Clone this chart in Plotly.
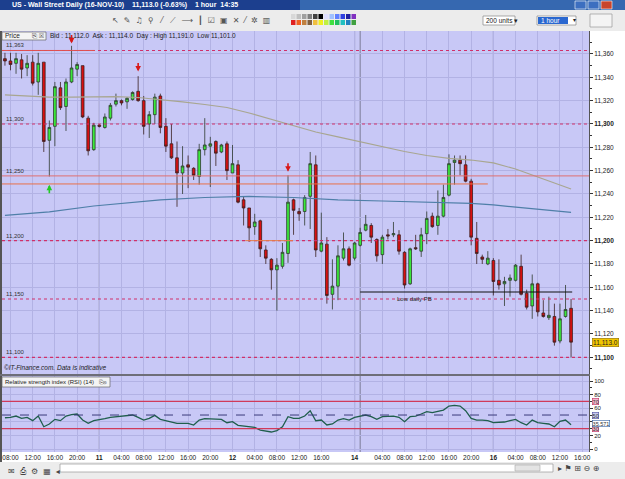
import plotly.graph_objects as go

W, H = 625, 479
def px(x): return x / W
def py(y): return 1 - y / H

# ---------------- data ----------------
idx = list(range(-1, 102))
opens = [11356, 11354, 11352, 11355, 11348, 11353, 11336, 11353, 11286, 11298, 11331, 11315, 11336, 11347, 11350, 11305,
         11278, 11299, 11297, 11305, 11317, 11320, 11319, 11321, 11328, 11320, 11300, 11308, 11324, 11298, 11283, 11271,
         11258, 11265, 11262, 11255, 11278, 11281, 11285, 11276, 11283, 11258, 11265, 11235, 11228, 11212, 11217, 11192,
         11184, 11175, 11178, 11189, 11235, 11225, 11225, 11238, 11265, 11191, 11197, 11154, 11161, 11185, 11193, 11185,
         11196, 11209, 11213, 11201, 11188, 11205, 11205, 11205, 11190, 11163, 11194, 11191, 11206, 11221, 11213, 11221,
         11239, 11267, 11269, 11265, 11251, 11202, 11186, 11180, 11183, 11166, 11163, 11166, 11166, 11178, 11155, 11144,
         11163, 11138, 11134, 11135, 11114, 11135, 11142]
highs = [11361, 11361, 11361, 11360, 11359, 11359, 11361, 11353, 11303, 11336, 11336, 11339, 11367, 11353, 11350, 11307,
         11301, 11300, 11309, 11318, 11326, 11321, 11323, 11328, 11341, 11324, 11311, 11326, 11326, 11305, 11300, 11285,
         11281, 11273, 11263, 11283, 11305, 11289, 11286, 11283, 11285, 11282, 11269, 11238, 11228, 11223, 11218, 11196,
         11185, 11185, 11198, 11256, 11236, 11228, 11239, 11276, 11273, 11224, 11203, 11184, 11196, 11207, 11195, 11199,
         11211, 11222, 11215, 11202, 11205, 11210, 11216, 11209, 11191, 11194, 11205, 11211, 11225, 11224, 11243, 11248,
         11274, 11273, 11273, 11273, 11253, 11216, 11188, 11191, 11185, 11184, 11169, 11171, 11180, 11188, 11158, 11171,
         11164, 11149, 11152, 11146, 11146, 11162, 11150]
lows = [11350, 11346, 11343, 11339, 11341, 11333, 11325, 11276, 11255, 11281, 11312, 11294, 11335, 11341, 11305, 11273,
        11277, 11297, 11296, 11303, 11315, 11316, 11313, 11320, 11319, 11291, 11288, 11300, 11292, 11276, 11270, 11229,
        11240, 11245, 11252, 11248, 11273, 11246, 11264, 11275, 11252, 11258, 11232, 11213, 11199, 11205, 11186, 11180,
        11158, 11140, 11176, 11181, 11205, 11217, 11213, 11210, 11186, 11190, 11146, 11141, 11149, 11183, 11178, 11183,
        11195, 11208, 11198, 11182, 11180, 11201, 11203, 11188, 11159, 11162, 11192, 11186, 11197, 11211, 11205, 11220,
        11238, 11248, 11256, 11250, 11196, 11180, 11180, 11179, 11153, 11158, 11144, 11152, 11165, 11153, 11141, 11133,
        11135, 11134, 11132, 11110, 11112, 11134, 11100]
closes = [11354, 11351, 11356, 11347, 11352, 11335, 11352, 11285, 11297, 11332, 11314, 11336, 11348, 11351, 11306, 11277,
          11299, 11298, 11306, 11316, 11320, 11318, 11322, 11327, 11320, 11298, 11308, 11323, 11297, 11281, 11271, 11258,
          11264, 11263, 11256, 11278, 11282, 11283, 11275, 11282, 11260, 11266, 11233, 11228, 11211, 11216, 11193, 11185,
          11175, 11179, 11190, 11233, 11226, 11223, 11237, 11266, 11192, 11198, 11153, 11161, 11187, 11193, 11179, 11198,
          11207, 11214, 11203, 11187, 11203, 11204, 11206, 11191, 11162, 11193, 11193, 11205, 11219, 11212, 11221, 11237,
          11266, 11269, 11266, 11251, 11203, 11189, 11184, 11185, 11165, 11162, 11165, 11168, 11179, 11154, 11143, 11163,
          11139, 11135, 11136, 11113, 11133, 11141, 11113]
rsi = [46, 46.6, 48.5, 45, 46.6, 41.7, 48.5, 32.8, 36.8, 43.6, 41.7, 48.5, 50.5, 51.5, 42.6, 37.7, 41.7, 42.6, 44.6,
       46.6, 47.5, 47.5, 48.5, 50, 46.6, 42.6, 45, 49.5, 43.6, 41.7, 40.2, 37.7, 37.7, 37.7, 35.3, 42.6, 44.6, 44.6,
       43.6, 43.6, 38.7, 40.2, 34.8, 33.8, 31.9, 31.9, 27.9, 27, 25, 27, 32.8, 47.5, 45, 45, 48.5, 56.3, 41.6, 42.6,
       35.3, 36.8, 42.6, 44.6, 42.6, 46.6, 48.5, 50, 47.5, 43.6, 47.5, 48.5, 48.5, 46.6, 40.2, 47.5, 48.5, 51.5, 54.9,
       53.4, 54.9, 57.3, 63.2, 64.2, 63.2, 56.3, 45, 42.6, 42.6, 41.7, 38.7, 38.7, 39.7, 41.7, 43.6, 38.7, 35.3, 42.6,
       38.7, 37.7, 36.8, 32.8, 40.7, 42.6, 35.6]
ma_slow_x = [-1, 3, 7, 11, 15, 19, 23, 27, 31, 35, 39, 43, 47, 51, 55, 59, 63, 67, 71, 75, 79, 83, 87, 91, 95, 99, 101]
ma_slow = [11324.9, 11324.0, 11323.1, 11323.1, 11323.1, 11323.4, 11322.7, 11321.0, 11318.9, 11316.7, 11314.1, 11309.4,
           11303.9, 11298.3, 11293.1, 11288.9, 11284.6, 11280.3, 11276.4, 11273.0, 11270.6, 11269.1, 11266.6, 11261.4,
           11254.6, 11248.2, 11244.3]
ma_fast_x = [-1, 7, 15, 19, 27, 35, 43, 51, 59, 67, 75, 83, 87, 91, 95, 101]
ma_fast = [11221.6, 11224.6, 11229.7, 11231.4, 11234.9, 11237.0, 11237.9, 11237.0, 11234.9, 11234.0, 11232.7, 11231.9,
           11230.6, 11228.9, 11227.2, 11224.3]
sell_idx = [11, 23, 50]
sell_px = [11369, 11345, 11259]
buy_idx = [7]
buy_px = [11248]
tick_idx = [0, 4, 8, 12, 16, 20, 24, 28, 32, 36, 40, 44, 48, 52, 56, 62, 67, 71, 75, 79, 83, 87, 91, 95, 99, 103]
tick_lbl = ['08:00', '12:00', '16:00', '20:00', '<b>11</b>', '04:00', '08:00', '12:00', '16:00', '20:00', '<b>12</b>',
            '04:00', '08:00', '12:00', '16:00', '<b>14</b>', '04:00', '08:00', '12:00', '16:00', '20:00', '<b>16</b>',
            '04:00', '08:00', '12:00', '16:00']
day_lines = [16, 40, 62, 63, 87]
price_ticks = list(range(11100, 11361, 20))
price_tick_lbl = [('<b>%s</b>' % f'{v:,}') if v % 100 == 0 else f'{v:,}' for v in price_ticks]
rsi_ticks = [0, 20, 40, 60, 80, 100]
rsi_tick_lbl = ['0', '20', '', '60', '80', '100']
level_dotted = [11363, 11300, 11200, 11150, 11100]
level_labels = ['11,363', '11,300', '11,250', '11,200', '11,150', '11,100']
level_label_y = [11363, 11300, 11255.5, 11200, 11150, 11100]
low_pb = 11156
last_px = 11113
rsi_last = 35.571

FONT = "Liberation Sans, Arial, sans-serif"
LAV = "#C8C8F6"
GRID = "#B2B2E4"

fig = go.Figure()

fig.add_trace(go.Scatter(x=ma_slow_x, y=ma_slow, mode="lines", line=dict(color="#A8A690", width=1.2),
                         hoverinfo="skip", xaxis="x", yaxis="y"))
fig.add_trace(go.Scatter(x=ma_fast_x, y=ma_fast, mode="lines", line=dict(color="#4F7FA8", width=1.2),
                         hoverinfo="skip", xaxis="x", yaxis="y"))
fig.add_trace(go.Candlestick(
    x=idx, open=opens, high=highs, low=lows, close=closes, xaxis="x", yaxis="y",
    increasing=dict(fillcolor="#3BEA3B", line=dict(color="#2E3A2E", width=0.8)),
    decreasing=dict(fillcolor="#D81010", line=dict(color="#3A2020", width=0.8)),
    whiskerwidth=0, hoverinfo="skip"))
fig.add_trace(go.Scatter(x=idx, y=rsi, mode="lines", line=dict(color="#1F5E4C", width=1.3),
                         hoverinfo="skip", xaxis="x", yaxis="y2"))

fig.update_layout(
    width=W, height=H, margin=dict(l=0, r=0, t=0, b=0),
    paper_bgcolor="white", plot_bgcolor=LAV, showlegend=False,
    font=dict(family=FONT, size=7, color="#222"),
    xaxis=dict(domain=[px(2), px(589)], range=[-1.53, 104.23], anchor="y2", tickvals=tick_idx, ticktext=tick_lbl,
               showgrid=True, gridcolor=GRID, gridwidth=1, zeroline=False, rangeslider=dict(visible=False),
               tickfont=dict(size=6.5, color="#222"), ticks="", automargin=False, showline=False),
    yaxis=dict(domain=[py(374), py(31)], range=[11085.7, 11379.7], side="right", anchor="x",
               tickvals=price_ticks, ticktext=price_tick_lbl, ticks="outside", ticklen=3, tickcolor="#333",
               minor=dict(dtick=10, tick0=11100, ticks="outside", ticklen=2, tickcolor="#333", showgrid=False),
               showgrid=True, gridcolor=GRID, zeroline=False, showline=True, linecolor="#555", linewidth=1,
               tickfont=dict(size=6.5, color="#222"), automargin=False),
    yaxis2=dict(domain=[py(452), py(376)], range=[-4.4, 107.4], side="right", anchor="x",
                tickvals=rsi_ticks, ticktext=rsi_tick_lbl, ticks="outside", ticklen=3, tickcolor="#333",
                minor=dict(dtick=10, tick0=0, ticks="outside", ticklen=2, tickcolor="#333", showgrid=False),
                showgrid=True, gridcolor=GRID, zeroline=False, showline=True, linecolor="#555", linewidth=1,
                tickfont=dict(size=6, color="#222"), automargin=False),
)

shapes = []
# window chrome
shapes.append(dict(type="rect", xref="paper", yref="paper", x0=0, x1=1, y0=py(10), y1=1,
                   fillcolor="#1C3F8E", line=dict(width=0), layer="below"))
shapes.append(dict(type="rect", xref="paper", yref="paper", x0=px(300), x1=1, y0=py(10), y1=1,
                   fillcolor="#3668B0", line=dict(width=0), layer="below"))
shapes.append(dict(type="rect", xref="paper", yref="paper", x0=0, x1=1, y0=py(31), y1=py(10),
                   fillcolor="#ECECEC", line=dict(width=0), layer="below"))
shapes.append(dict(type="rect", xref="paper", yref="paper", x0=0, x1=1, y0=0, y1=py(462),
                   fillcolor="#ECECEC", line=dict(width=0), layer="below"))
# window buttons
for bx, col in [(575, "#3C6FC0"), (588, "#3C6FC0"), (601, "#C8442C")]:
    shapes.append(dict(type="rect", xref="paper", yref="paper", x0=px(bx), x1=px(bx + 11), y0=py(9), y1=py(1),
                       fillcolor=col, line=dict(color="white", width=0.6)))
# toolbar palette
pal1 = ["#D8D8D8", "#C0C0C0", "#A0A0A0", "#808080", "#404040", "#000000", "#E0E0FF", "#A0C0FF", "#6080FF",
        "#3040E0", "#2020A0", "#8030C0"]
pal2 = ["#E02020", "#F06020", "#C08040", "#806040", "#F0C040", "#F0F020", "#C0F040", "#40E040", "#20C060",
        "#20C0C0", "#2080C0", "#40A040"]
for k, c in enumerate(pal1):
    shapes.append(dict(type="rect", xref="paper", yref="paper", x0=px(291 + 5.5 * k), x1=px(295.5 + 5.5 * k),
                       y0=py(19), y1=py(14), fillcolor=c, line=dict(width=0)))
for k, c in enumerate(pal2):
    shapes.append(dict(type="rect", xref="paper", yref="paper", x0=px(291 + 5.5 * k), x1=px(295.5 + 5.5 * k),
                       y0=py(25), y1=py(20), fillcolor=c, line=dict(width=0)))
# dropdowns
shapes.append(dict(type="rect", xref="paper", yref="paper", x0=px(483), x1=px(515), y0=py(25), y1=py(16),
                   fillcolor="white", line=dict(color="#888", width=0.7)))
shapes.append(dict(type="rect", xref="paper", yref="paper", x0=px(537), x1=px(576), y0=py(25), y1=py(16),
                   fillcolor="white", line=dict(color="#888", width=0.7)))
shapes.append(dict(type="rect", xref="paper", yref="paper", x0=px(538), x1=px(568), y0=py(24), y1=py(17),
                   fillcolor="#2A68D0", line=dict(width=0)))
shapes.append(dict(type="rect", xref="paper", yref="paper", x0=px(590), x1=px(612), y0=py(27), y1=py(14),
                   fillcolor="#F4F4F4", line=dict(color="#999", width=0.7)))
# bottom scrollbar
shapes.append(dict(type="rect", xref="paper", yref="paper", x0=px(60), x1=px(553), y0=py(472), y1=py(464),
                   fillcolor="white", line=dict(color="#999", width=0.7)))
shapes.append(dict(type="rect", xref="paper", yref="paper", x0=px(515), x1=px(540), y0=py(471), y1=py(465),
                   fillcolor="#E4E4E4", line=dict(color="#AAA", width=0.6)))
# left window border
shapes.append(dict(type="line", xref="paper", yref="paper", x0=px(1), x1=px(1), y0=py(462), y1=py(31),
                   line=dict(color="#555", width=2)))
# panel separator
shapes.append(dict(type="line", xref="paper", yref="paper", x0=0, x1=px(590), y0=py(375), y1=py(375),
                   line=dict(color="#6E6E78", width=2)))
# day separators
for d in day_lines:
    shapes.append(dict(type="line", xref="x", yref="paper", x0=d, x1=d, y0=py(452), y1=py(31),
                       line=dict(color="#7C7C96", width=1), layer="below"))
# dotted levels
for lv in level_dotted:
    shapes.append(dict(type="line", xref="paper", yref="y", x0=px(2), x1=px(589), y0=lv, y1=lv,
                       line=dict(color="#D0306A", width=1.2, dash="dot")))
shapes.append(dict(type="line", xref="x", yref="y", x0=-1.53, x1=15.2, y0=11363, y1=11363,
                   line=dict(color="#E05050", width=1)))
shapes.append(dict(type="line", xref="paper", yref="y", x0=px(2), x1=px(589), y0=11255.5, y1=11255.5,
                   line=dict(color="#E07070", width=1)))
shapes.append(dict(type="line", xref="x", yref="y", x0=-1.53, x1=86, y0=11248.6, y1=11248.6,
                   line=dict(color="#E8704A", width=1)))
shapes.append(dict(type="line", xref="x", yref="y", x0=42.3, x1=50.9, y0=11200, y1=11200,
                   line=dict(color="#E8804A", width=1)))
shapes.append(dict(type="line", xref="x", yref="y", x0=63, x1=101.2, y0=low_pb, y1=low_pb,
                   line=dict(color="#111", width=1.2)))
# RSI levels
for lv, col, dash in [(70, "#D03A5A", "solid"), (30, "#D03A5A", "solid"), (50, "#3A3A7A", "dash")]:
    shapes.append(dict(type="line", xref="paper", yref="y2", x0=px(2), x1=px(589), y0=lv, y1=lv,
                       line=dict(color=col, width=1 if dash == "dash" else 1.3, dash=dash)))
# header boxes
shapes.append(dict(type="rect", xref="paper", yref="paper", x0=px(2), x1=px(46), y0=py(40), y1=py(32),
                   fillcolor="#F4F4F4", line=dict(color="#666", width=0.7)))
shapes.append(dict(type="rect", xref="paper", yref="paper", x0=px(2), x1=px(110), y0=py(387), y1=py(377),
                   fillcolor="#F4F4F4", line=dict(color="#666", width=0.7)))

ann = []
def text(x, y, s, size=7, color="#222", xanchor="left", yanchor="middle", xref="paper", yref="paper", **kw):
    ann.append(dict(x=x, y=y, xref=xref, yref=yref, text=s, showarrow=False, xanchor=xanchor, yanchor=yanchor,
                    font=dict(size=size, color=color, family=FONT), **kw))

text(px(10), py(5), "<b>US - Wall Street Daily (16-NOV-10)    11,113.0 (-0.63%)    1 hour  14:35</b>", size=7,
     color="white")
ann.append(dict(x=px(110), y=py(20.5), xref="paper", yref="paper", showarrow=False, xanchor="left",
                yanchor="middle", text="↖  ✎  ♫  ⚲   ⁄   ⟋  ⟶  ┃  ☑  ▣  ✕  ⁄  ✲  ▥",
                font=dict(size=8, color="#555", family="DejaVu Sans")))
text(px(484), py(20.5), "200 units ▾", size=6.5)
text(px(539), py(20.5), "1 hour", size=6.5, color="white")
text(px(571), py(20.5), "▾", size=6)
ann.append(dict(x=px(6), y=py(471), xref="paper", yref="paper", showarrow=False, xanchor="left",
                yanchor="middle", text="✉  ⎙  ⚙  ▦  ◂", font=dict(size=8, color="#444", family="DejaVu Sans")))
ann.append(dict(x=px(556), y=py(468), xref="paper", yref="paper", showarrow=False, xanchor="left",
                yanchor="middle", text="▸ ⚑ ⊞ ⊖ ⊕", font=dict(size=8, color="#444", family="DejaVu Sans")))
text(px(3), py(36), "Price", size=6.5)
text(px(30), py(36), "⎘ ☒", size=6.5)
text(px(48), py(36), "Bid : 11,112.0  Ask : 11,114.0  Day : High 11,191.0  Low 11,101.0", size=6.5)
text(px(3), py(382), "Relative strength index (RSI) (14)", size=6)
text(px(97), py(382), "⎘⊗", size=5.5)
text(px(2), py(367), "<i>©IT-Finance.com. Data is indicative</i>", size=6.5)
for lbl, yv in zip(level_labels, level_label_y):
    text(px(4), yv, lbl, size=6, color="#333", yref="y", yanchor="bottom")
text(px(395), low_pb - 2, "Low daily PB", size=6, xref="paper", yref="y", yanchor="top")
# price tag
ann.append(dict(x=px(592), y=last_px, xref="paper", yref="y", text=f"{last_px:,}.0", showarrow=False,
                xanchor="left", yanchor="middle", bgcolor="#F2C600", bordercolor="#8A6A00", borderwidth=0.6,
                borderpad=0.5, font=dict(size=6.5, color="#222", family=FONT)))
# RSI tags
for val, lbl, bg, bc in [(70, "70", "#F2B8CC", "#C03060"), (50, "50", "#C8C8F0", "#5050A0"),
                         (30, "30", "#F2B8CC", "#C03060")]:
    ann.append(dict(x=px(592), y=val, xref="paper", yref="y2", text=lbl, showarrow=False, xanchor="left",
                    yanchor="middle", bgcolor=bg, bordercolor=bc, borderwidth=0.6, borderpad=0,
                    font=dict(size=5.5, color="#333", family=FONT)))
ann.append(dict(x=px(592), y=rsi_last + 1.5, xref="paper", yref="y2", text=f"{rsi_last:.3f}", showarrow=False,
                xanchor="left", yanchor="middle", bgcolor="white", bordercolor="#3060A0", borderwidth=0.6,
                borderpad=0, font=dict(size=5.5, color="#333", family=FONT)))
# arrows
for xi, yv in zip(sell_idx, sell_px):
    ann.append(dict(x=xi, y=yv, xref="x", yref="y", text="", showarrow=True, ax=0, ay=-10, arrowhead=2,
                    arrowsize=0.7, arrowwidth=1.6, arrowcolor="#D81818"))
for xi, yv in zip(buy_idx, buy_px):
    ann.append(dict(x=xi, y=yv, xref="x", yref="y", text="", showarrow=True, ax=0, ay=10, arrowhead=2,
                    arrowsize=0.7, arrowwidth=1.6, arrowcolor="#22CC22"))

fig.update_layout(shapes=shapes, annotations=ann)
fig.write_html("out.html")
